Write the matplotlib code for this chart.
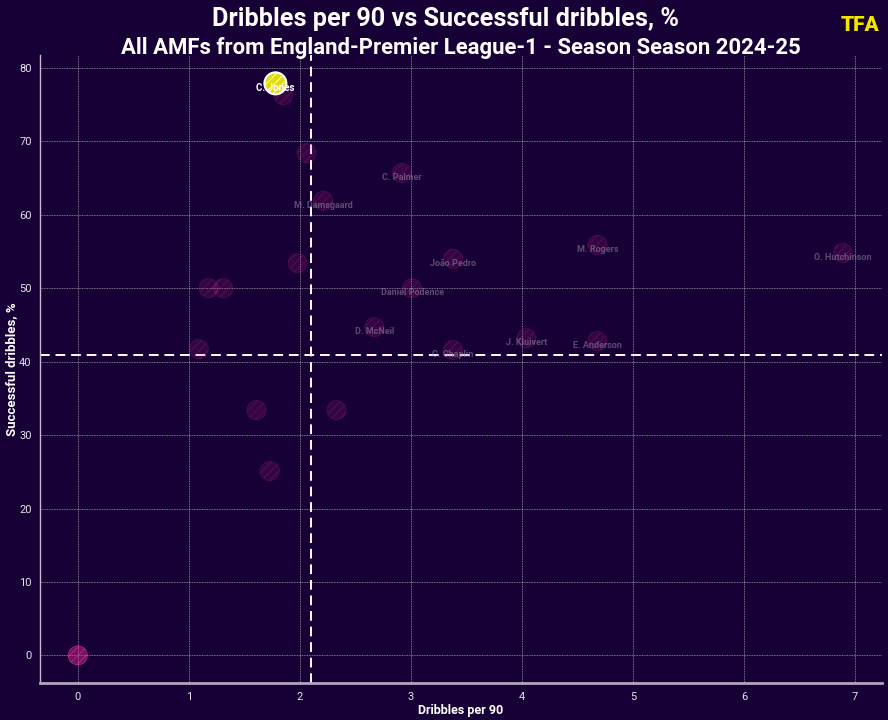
import matplotlib
matplotlib.use("Agg")
import matplotlib.pyplot as plt

players = ["C. Jones", "", "", "C. Palmer", "M. Damsgaard", "", "João Pedro",
           "M. Rogers", "O. Hutchinson", "", "", "Daniel Podence", "D. McNeil",
           "J. Kluivert", "E. Anderson", "C. Chaplin", "", "", "", "",
           "", "", "", ""]
dribbles_p90 = [1.78, 1.85, 2.06, 2.92, 2.21, 1.98, 3.38, 4.68, 6.89, 1.18, 1.31,
                3.01, 2.67, 4.04, 4.68, 3.38, 1.09, 1.61, 2.33, 1.73,
                0.0, 0.0, 0.0, 0.0]
success_pct = [77.9, 76.3, 68.4, 65.7, 61.9, 53.4, 54.0, 55.9, 54.8, 50.0, 50.0,
               50.0, 44.7, 43.2, 42.8, 41.6, 41.7, 33.4, 33.4, 25.1,
               0.0, 0.0, 0.0, 0.0]
highlight = "C. Jones"

title = "Dribbles per 90 vs Successful dribbles, %"
subtitle = "All AMFs from England-Premier League-1 - Season Season 2024-25"
xlabel = "Dribbles per 90"
ylabel = "Successful dribbles, %"
xticks = [0, 1, 2, 3, 4, 5, 6, 7]
yticks = [0, 10, 20, 30, 40, 50, 60, 70, 80]

BG = "#170036"
plt.rcParams["font.family"] = ["Roboto", "DejaVu Sans"]
plt.rcParams["hatch.linewidth"] = 0.6

fig = plt.figure(figsize=(8.88, 7.2), dpi=100, facecolor=BG)
ax = fig.add_axes([0.045, 0.051, 0.948, 0.873])
ax.set_facecolor(BG)

mean_x = 2.10
mean_y = 40.9

ax.set_xlim(-0.34, 7.24)
ax.set_ylim(-3.8, 81.8)
ax.set_xticks(xticks)
ax.set_yticks(yticks)
ax.grid(True, color="white", linestyle=(0, (1, 1)), linewidth=0.6, alpha=0.6)
ax.set_axisbelow(True)

for s in ["top", "right"]:
    ax.spines[s].set_visible(False)
ax.spines["left"].set_color("#c4bcd0")
ax.spines["left"].set_linewidth(1.0)
ax.spines["bottom"].set_color("#b0a6be")
ax.spines["bottom"].set_linewidth(2.0)
ax.tick_params(colors="#d8d0e0", labelsize=8, length=0, pad=6)
for lab in ax.get_xticklabels() + ax.get_yticklabels():
    lab.set_color("#e6e0ee")

ax.axvline(mean_x, color="white", linestyle=(0, (5, 3)), linewidth=1.4, zorder=2)
ax.axhline(mean_y, color="white", linestyle=(0, (5, 3)), linewidth=1.4, zorder=2)

for name, x, y in zip(players, dribbles_p90, success_pct):
    if name == highlight:
        continue
    ax.scatter([x], [y], s=190, facecolor=(0.88, 0.19, 0.6, 0.14),
               edgecolor=(0.88, 0.19, 0.6, 0.22), linewidth=0.5, hatch="////", zorder=3)
    if name and x > mean_x and y > mean_y:
        ax.annotate(name, (x, y), xytext=(0, -3), textcoords="offset points",
                    ha="center", va="center", fontsize=6.5, fontweight="bold",
                    color="#8a7f99", alpha=0.6, zorder=4)

for name, x, y in zip(players, dribbles_p90, success_pct):
    if name == highlight:
        ax.scatter([x], [y], s=250, facecolor="#e2da10", edgecolor="white",
                   linewidth=1.5, hatch="////", zorder=5)
        ax.annotate(name, (x, y), xytext=(0, -3), textcoords="offset points",
                    ha="center", va="center", fontsize=7, fontweight="bold",
                    color="white", zorder=6)

ax.set_xlabel(xlabel, color="white", fontsize=9, fontweight="bold", labelpad=2)
ax.set_ylabel(ylabel, color="white", fontsize=9.5, fontweight="bold", labelpad=1)

fig.text(0.502, 0.974, title, ha="center", va="center", color="white",
         fontsize=18.2, fontweight="bold")
fig.text(0.519, 0.934, subtitle, ha="center", va="center", color="white",
         fontsize=15.9, fontweight="bold")
fig.text(0.969, 0.964, "TFA", ha="center", va="center", color="#f2e600",
         fontsize=15, fontweight="black")

fig.savefig("out.png", dpi=100, facecolor=BG)
